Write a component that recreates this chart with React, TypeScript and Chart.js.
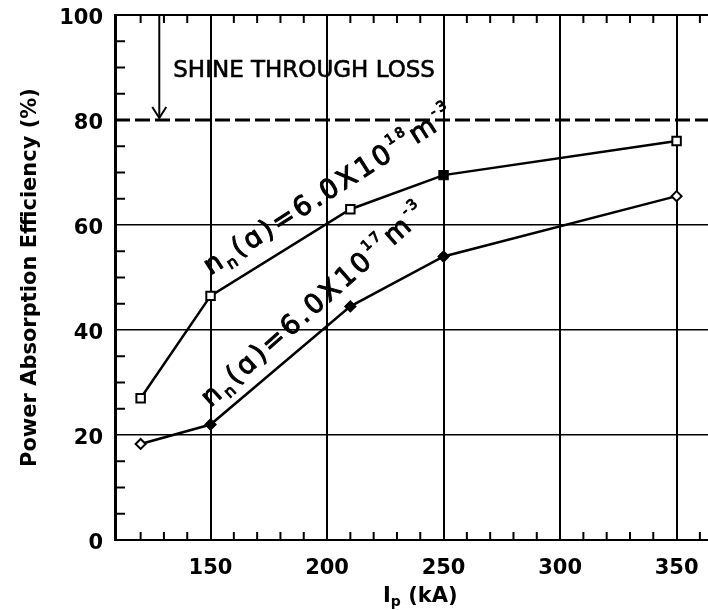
import React, { useEffect, useRef } from 'react';
import { Chart, registerables } from 'chart.js';

Chart.register(...registerables);

// Plasma current I_p (kA) at which the absorption efficiency was computed
const currents = [120, 150, 210, 250, 350];
// Power absorption efficiency (%) for n_n(a) = 6.0x10^18 m^-3
const efficiencyHighDensity = [27, 46.5, 63, 69.5, 76];
// Power absorption efficiency (%) for n_n(a) = 6.0x10^17 m^-3
const efficiencyLowDensity = [18.3, 22, 44.5, 54, 65.5];
// Shine-through loss limit (%)
const shineThroughLimit = 80;

const xTickValues = [150, 200, 250, 300, 350];
const yTickValues = [0, 20, 40, 60, 80, 100];
const xRange = { min: 109, max: 378.5 };
const yRange = { min: 0, max: 100 };

const FONT = '"DejaVu Sans", sans-serif';

type Run = { t: string; size: number; dy: number };

function drawRuns(
  ctx: CanvasRenderingContext2D,
  x0: number,
  y0: number,
  angleDeg: number,
  runs: Run[],
  tracking: number
) {
  ctx.save();
  ctx.translate(x0, y0);
  ctx.rotate((angleDeg * Math.PI) / 180);
  ctx.textAlign = 'left';
  ctx.textBaseline = 'alphabetic';
  ctx.lineWidth = 1;
  ctx.lineJoin = 'round';
  let cx = 0;
  for (const r of runs) {
    ctx.font = `${r.size}px ${FONT}`;
    for (const ch of r.t) {
      ctx.fillText(ch, cx, r.dy);
      ctx.strokeText(ch, cx, r.dy);
      cx += ctx.measureText(ch).width + tracking;
    }
  }
  ctx.restore();
}

function densityLabel(exponent: string): Run[] {
  return [
    { t: 'n', size: 27, dy: 0 },
    { t: 'n', size: 16, dy: 6 },
    { t: '(ɑ)=6.0X10', size: 27, dy: 0 },
    { t: exponent, size: 14, dy: -14 },
    { t: 'm', size: 27, dy: 0 },
    { t: '-3', size: 14, dy: -14 },
  ];
}

const decorations = {
  id: 'decorations',
  afterDraw(chart: Chart) {
    const { ctx, chartArea: a } = chart;
    const x = chart.scales.x;
    const y = chart.scales.y;
    const seg = (x1: number, y1: number, x2: number, y2: number) => {
      ctx.beginPath();
      ctx.moveTo(x1, y1);
      ctx.lineTo(x2, y2);
      ctx.stroke();
    };
    ctx.save();
    ctx.strokeStyle = '#000';
    ctx.fillStyle = '#000';
    ctx.lineCap = 'butt';

    // top frame line
    ctx.lineWidth = 2;
    seg(a.left, a.top, a.right, a.top);

    // inward minor ticks on the bottom and top frame, every 10 kA
    for (let v = 120; v <= 370; v += 10) {
      if (v % 50 === 0) continue;
      const px = x.getPixelForValue(v);
      seg(px, a.bottom, px, a.bottom - 8);
      seg(px, a.top, px, a.top + 8);
    }
    // inward minor ticks on the left frame, every 5 %
    for (let v = 5; v < 100; v += 5) {
      if (v % 20 === 0) continue;
      const py = y.getPixelForValue(v);
      seg(a.left, py, a.left + 10, py);
    }

    // arrow pointing at the shine-through limit
    const ax = x.getPixelForValue(128);
    const tipY = y.getPixelForValue(shineThroughLimit) - 2;
    ctx.lineWidth = 2;
    seg(ax, a.top, ax, tipY);
    ctx.beginPath();
    ctx.moveTo(ax - 7, tipY - 11);
    ctx.lineTo(ax, tipY);
    ctx.lineTo(ax + 7, tipY - 11);
    ctx.stroke();

    // limit caption
    ctx.font = `23px ${FONT}`;
    ctx.textAlign = 'left';
    ctx.textBaseline = 'middle';
    ctx.lineWidth = 0.6;
    const capX = x.getPixelForValue(134);
    const capY = y.getPixelForValue(89.4);
    ctx.fillText('SHINE THROUGH LOSS', capX, capY);
    ctx.strokeText('SHINE THROUGH LOSS', capX, capY);

    // density labels along each curve
    drawRuns(ctx, x.getPixelForValue(150), y.getPixelForValue(50.4), -32.5, densityLabel('18'), 3);
    drawRuns(ctx, x.getPixelForValue(150), y.getPixelForValue(25.2), -41.5, densityLabel('17'), 3);

    // x-axis title with subscript
    const runs: Run[] = [
      { t: 'I', size: 21, dy: 0 },
      { t: 'p', size: 14, dy: 4 },
      { t: ' (kA)', size: 21, dy: 0 },
    ];
    let w = 0;
    for (const r of runs) {
      ctx.font = `bold ${r.size}px ${FONT}`;
      w += ctx.measureText(r.t).width;
    }
    let cx = x.getPixelForValue(240) - w / 2;
    const base = a.bottom + 62;
    ctx.textBaseline = 'alphabetic';
    for (const r of runs) {
      ctx.font = `bold ${r.size}px ${FONT}`;
      ctx.fillText(r.t, cx, base + r.dy);
      cx += ctx.measureText(r.t).width;
    }
    ctx.restore();
  },
};

export default function App() {
  const ref = useRef<HTMLCanvasElement>(null);

  useEffect(() => {
    const canvas = ref.current;
    if (!canvas) return;
    const markerFill = (filled: number[]) => (c: any) =>
      filled.includes(c.dataIndex) ? '#000' : '#fff';

    const chart = new Chart(canvas, {
      type: 'line',
      data: {
        datasets: [
          {
            data: currents.map((c, i) => ({ x: c, y: efficiencyHighDensity[i] })),
            borderColor: '#000',
            borderWidth: 2.5,
            pointStyle: 'rect',
            pointRadius: 6,
            pointBorderWidth: 2,
            pointBorderColor: '#000',
            pointBackgroundColor: markerFill([3]),
            tension: 0,
          },
          {
            data: currents.map((c, i) => ({ x: c, y: efficiencyLowDensity[i] })),
            borderColor: '#000',
            borderWidth: 2.5,
            pointStyle: 'rectRot',
            pointRadius: 5,
            pointBorderWidth: 2,
            pointBorderColor: '#000',
            pointBackgroundColor: markerFill([1, 2, 3]),
            tension: 0,
          },
          {
            data: [
              { x: xRange.min, y: shineThroughLimit },
              { x: xRange.max, y: shineThroughLimit },
            ],
            borderColor: '#000',
            borderWidth: 3,
            borderDash: [15, 5],
            pointRadius: 0,
          },
        ],
      },
      options: {
        responsive: false,
        animation: false,
        devicePixelRatio: 1,
        layout: { padding: { left: 0, top: 15, right: 17, bottom: 0 } },
        plugins: { legend: { display: false }, tooltip: { enabled: false } },
        scales: {
          x: {
            type: 'linear',
            min: xRange.min,
            max: xRange.max,
            afterBuildTicks: (s: any) => {
              s.ticks = xTickValues.map((v) => ({ value: v }));
            },
            afterFit: (s: any) => {
              s.height = 70;
              s.paddingLeft = 0;
              s.paddingRight = 0;
            },
            ticks: {
              color: '#000',
              font: { family: FONT, size: 21, weight: 'bold' },
              padding: 16,
              maxRotation: 0,
              callback: (v: any) => String(v),
            },
            grid: { color: '#000', lineWidth: 2, drawTicks: false },
            border: { display: true, color: '#000', width: 2 },
          },
          y: {
            type: 'linear',
            min: yRange.min,
            max: yRange.max,
            afterBuildTicks: (s: any) => {
              s.ticks = yTickValues.map((v) => ({ value: v }));
            },
            afterFit: (s: any) => {
              s.width = 115;
              s.paddingTop = 0;
              s.paddingBottom = 0;
            },
            ticks: {
              color: '#000',
              font: { family: FONT, size: 21, weight: 'bold' },
              padding: 12,
              labelOffset: 4,
              callback: (v: any) => String(v),
            },
            grid: {
              color: (c: any) =>
                c.tick && [20, 40, 60].includes(c.tick.value) ? '#000' : 'rgba(0,0,0,0)',
              lineWidth: 1.6,
              drawTicks: false,
            },
            border: { display: true, color: '#000', width: 3 },
            title: {
              display: true,
              text: 'Power Absorption Efficiency (%)',
              color: '#000',
              font: { family: FONT, size: 21, weight: 'bold' },
              padding: { top: 18, bottom: 0 },
            },
          },
        },
      },
      plugins: [decorations],
    });
    return () => chart.destroy();
  }, []);

  return (
    <div
      style={{
        position: 'absolute',
        left: 0,
        top: 0,
        width: 708,
        height: 610,
        overflow: 'hidden',
        background: '#fff',
      }}
    >
      <canvas ref={ref} width={760} height={610} style={{ display: 'block' }} />
    </div>
  );
}
